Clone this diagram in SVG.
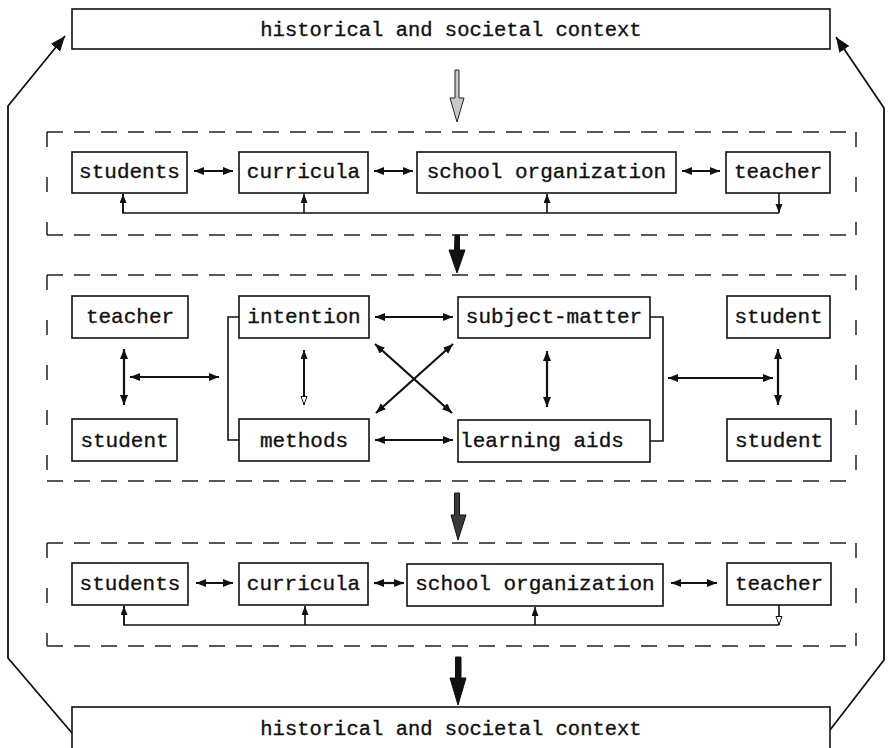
<svg xmlns="http://www.w3.org/2000/svg" width="889" height="748" viewBox="0 0 889 748">
<style>
  .box { fill: #fff; stroke: #111; stroke-width: 1.6; }
  .t { font-family: "Liberation Mono", "Courier New", monospace; font-size: 21px; fill: #111; stroke: #111; stroke-width: 0.35; text-anchor: middle; }
  .ctx { font-size: 20.5px; }
  .dbl { stroke: #111; stroke-width: 2.2; fill: none; marker-start: url(#ah); marker-end: url(#ah); }
  .fb { stroke: #111; stroke-width: 1.6; fill: none; }
  .dh { stroke: #222; stroke-width: 1.5; fill: none; stroke-dasharray: 16 11; }
  .dv { stroke: #222; stroke-width: 1.5; fill: none; stroke-dasharray: 15 30; }
  .outer { stroke: #111; stroke-width: 1.8; fill: none; }
</style>
<defs>
  <marker id="ah" markerUnits="userSpaceOnUse" markerWidth="12" markerHeight="10" refX="10" refY="4" orient="auto-start-reverse">
    <path d="M0,0 L10,4 L0,8 Z" fill="#111"/>
  </marker>
  <marker id="ahs" markerUnits="userSpaceOnUse" markerWidth="10" markerHeight="10" refX="9" refY="3.5" orient="auto-start-reverse">
    <path d="M0,0 L9,3.5 L0,7 Z" fill="#111"/>
  </marker>
  <marker id="ahh" markerUnits="userSpaceOnUse" markerWidth="10" markerHeight="10" refX="9" refY="3.5" orient="auto">
    <path d="M0.5,0.5 L8.5,3.5 L0.5,6.5 Z" fill="#fff" stroke="#111" stroke-width="1"/>
  </marker>
  <marker id="ahb" markerUnits="userSpaceOnUse" markerWidth="18" markerHeight="14" refX="15" refY="6" orient="auto">
    <path d="M0,0 L15,6 L0,12 Z" fill="#111"/>
  </marker>
</defs>

<!-- context boxes -->
<g id="ctx-top">
  <rect class="box" x="72" y="9" width="758" height="40"/>
  <text class="t ctx" x="451" y="36">historical and societal context</text>
</g>
<g id="ctx-bottom">
  <rect class="box" x="72" y="707" width="758" height="56"/>
  <text class="t ctx" x="451" y="735">historical and societal context</text>
</g>

<!-- dashed frames -->
<g id="frame1">
  <line class="dh" x1="47" y1="132" x2="856" y2="132"/>
  <line class="dh" x1="47" y1="235" x2="856" y2="235"/>
  <line class="dv" x1="47" y1="132" x2="47" y2="235"/>
  <line class="dv" x1="856" y1="132" x2="856" y2="235"/>
</g>
<g id="frame2">
  <line class="dh" x1="47" y1="275" x2="856" y2="275"/>
  <line class="dh" x1="47" y1="481" x2="856" y2="481"/>
  <line class="dv" x1="47" y1="275" x2="47" y2="481"/>
  <line class="dv" x1="856" y1="275" x2="856" y2="481"/>
</g>
<g id="frame3">
  <line class="dh" x1="47" y1="543" x2="856" y2="543"/>
  <line class="dh" x1="47" y1="646" x2="856" y2="646"/>
  <line class="dv" x1="47" y1="543" x2="47" y2="646"/>
  <line class="dv" x1="856" y1="543" x2="856" y2="646"/>
</g>

<!-- row 1 -->
<g id="r1-students"><rect class="box" x="72" y="152" width="115" height="41"/><text class="t" x="129.5" y="178">students</text></g>
<g id="r1-curricula"><rect class="box" x="239" y="152" width="129" height="41"/><text class="t" x="303.5" y="178">curricula</text></g>
<g id="r1-school"><rect class="box" x="417" y="152" width="259" height="41"/><text class="t" x="546.5" y="178">school organization</text></g>
<g id="r1-teacher"><rect class="box" x="726" y="152" width="104" height="41"/><text class="t" x="778" y="178">teacher</text></g>

<!-- row 2 -->
<g id="r2-teacher"><rect class="box" x="72" y="296" width="116" height="42"/><text class="t" x="130" y="323">teacher</text></g>
<g id="r2-student-l"><rect class="box" x="72" y="419" width="105" height="42"/><text class="t" x="124.5" y="447">student</text></g>
<g id="r2-intention"><rect class="box" x="239" y="296" width="130" height="42"/><text class="t" x="304" y="323">intention</text></g>
<g id="r2-methods"><rect class="box" x="239" y="419" width="130" height="42"/><text class="t" x="304" y="447">methods</text></g>
<g id="r2-subject"><rect class="box" x="458" y="297" width="192" height="41"/><text class="t" x="554" y="323">subject-matter</text></g>
<g id="r2-aids"><rect class="box" x="458" y="420" width="192" height="42"/><text class="t" x="542" y="447">learning aids</text></g>
<g id="r2-student-rt"><rect class="box" x="727" y="296" width="103" height="42"/><text class="t" x="778.5" y="323">student</text></g>
<g id="r2-student-rb"><rect class="box" x="727" y="419" width="104" height="42"/><text class="t" x="779" y="447">student</text></g>

<!-- row 3 -->
<g id="r3-students"><rect class="box" x="72" y="563" width="116" height="42"/><text class="t" x="130" y="590">students</text></g>
<g id="r3-curricula"><rect class="box" x="239" y="563" width="129" height="42"/><text class="t" x="303.5" y="590">curricula</text></g>
<g id="r3-school"><rect class="box" x="407" y="564" width="256" height="42"/><text class="t" x="535" y="590">school organization</text></g>
<g id="r3-teacher"><rect class="box" x="727" y="563" width="104" height="42"/><text class="t" x="779" y="590">teacher</text></g>

<g id="connectors">
  <!-- outer feedback lines -->
  <path class="outer" d="M72,733 L8,658 L8,106 L65,36" marker-end="url(#ahb)"/>
  <path class="outer" d="M830,730 L884,660 L884,108 L836,37" marker-end="url(#ahb)"/>

  <!-- vertical flow arrows -->
  <polygon points="455,70 459,70 459,98 464,98 457,122 450,98 455,98" fill="#c8c8c8" stroke="#222" stroke-width="1"/>
  <polygon points="455,235 459.5,235 459.5,250 465,250 457,273 449,250 454.5,250" fill="#111" stroke="#111" stroke-width="1"/>
  <polygon points="454.5,493 459.5,493 459.5,515 466,515 458,540 451,515 454.5,515" fill="#3a3a3a" stroke="#111" stroke-width="1"/>
  <polygon points="455.5,657 461,657 461,678 466,678 458,705 450,678 455.5,678" fill="#111" stroke="#111" stroke-width="1"/>

  <!-- row 1 connectors -->
  <line class="dbl" x1="194" y1="171" x2="233" y2="171"/>
  <line class="dbl" x1="374" y1="171" x2="413" y2="171"/>
  <line class="dbl" x1="682" y1="171" x2="720" y2="171"/>
  <polyline class="fb" points="123,194 123,213 779,213"/>
  <line class="fb" x1="123" y1="213" x2="123" y2="194" marker-end="url(#ahs)"/>
  <line class="fb" x1="304" y1="213" x2="304" y2="194" marker-end="url(#ahs)"/>
  <line class="fb" x1="547" y1="213" x2="547" y2="194" marker-end="url(#ahs)"/>
  <line class="fb" x1="779" y1="193" x2="779" y2="213" marker-end="url(#ahs)"/>

  <!-- row 2 connectors -->
  <line class="dbl" x1="124" y1="349" x2="124" y2="405"/>
  <line class="dbl" x1="130" y1="377" x2="219" y2="377"/>
  <polyline class="fb" points="239,317 228,317 228,440 239,440"/>
  <polyline class="fb" points="650,317 663,317 663,441 650,441"/>
  <line class="fb" x1="304" y1="377" x2="304" y2="350" marker-end="url(#ahs)" style="stroke-width:2"/>
  <line class="fb" x1="304" y1="377" x2="304" y2="405" marker-end="url(#ahh)" style="stroke-width:2"/>
  <line class="dbl" x1="375" y1="317" x2="453" y2="317"/>
  <line class="dbl" x1="375" y1="440" x2="453" y2="440"/>
  <line class="dbl" x1="375" y1="344" x2="452" y2="413"/>
  <line class="dbl" x1="453" y1="344" x2="376" y2="413"/>
  <line class="dbl" x1="547" y1="351" x2="547" y2="407"/>
  <line class="dbl" x1="668" y1="378" x2="773" y2="378"/>
  <line class="dbl" x1="778" y1="349" x2="778" y2="405"/>

  <!-- row 3 connectors -->
  <line class="dbl" x1="196" y1="583" x2="233" y2="583"/>
  <line class="dbl" x1="374" y1="583" x2="404" y2="583"/>
  <line class="dbl" x1="671" y1="583" x2="717" y2="583"/>
  <polyline class="fb" points="124,606 124,625 779,625"/>
  <line class="fb" x1="124" y1="625" x2="124" y2="606" marker-end="url(#ahs)"/>
  <line class="fb" x1="305" y1="625" x2="305" y2="606" marker-end="url(#ahs)"/>
  <line class="fb" x1="535" y1="625" x2="535" y2="607" marker-end="url(#ahs)"/>
  <line class="fb" x1="779" y1="605" x2="779" y2="625" marker-end="url(#ahh)"/>
</g>
</svg>
